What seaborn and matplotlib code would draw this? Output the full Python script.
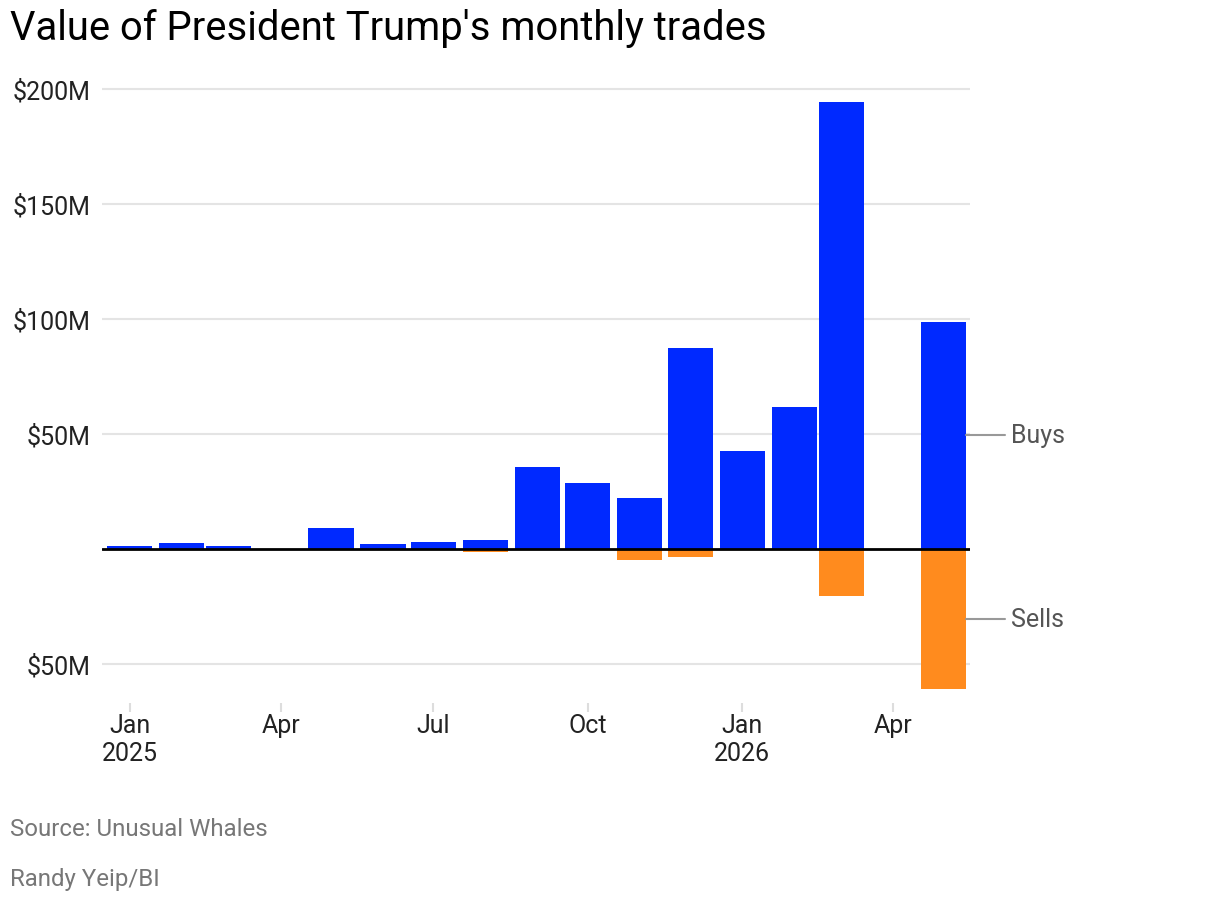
import matplotlib
matplotlib.use('Agg')
import matplotlib.pyplot as plt
import seaborn as sns
import numpy as np
import pandas as pd

# monthly trade values in $M
months = ['2025-01-01', '2025-02-01', '2025-03-01', '2025-04-01', '2025-05-01', '2025-06-01',
          '2025-07-01', '2025-08-01', '2025-09-01', '2025-10-01', '2025-11-01', '2025-12-01',
          '2026-01-01', '2026-02-01', '2026-03-01', '2026-04-01', '2026-05-01']
buys = [1.2, 2.7, 1.2, 0, 9.3, 2.3, 3.1, 4.0, 35.8, 28.8, 22.3, 87.4, 42.7, 61.8, 194.3, 0, 98.7]
sells = [0, 0, 0, 0, 0, 0, 0, -1.2, 0, 0, -4.6, -3.3, 0, 0, -20.3, 0, -60.8]

tick_dates = ['2025-01-01', '2025-04-01', '2025-07-01', '2025-10-01', '2026-01-01', '2026-04-01']
tick_labels = ['Jan\n2025', 'Apr', 'Jul', 'Oct', 'Jan\n2026', 'Apr']
y_ticks = [-50, 50, 100, 150, 200]

blue = '#0029ff'
orange = '#ff8b1e'

sns.set_theme(style='white')
plt.rcParams['font.family'] = ['Roboto', 'DejaVu Sans']

start = pd.Timestamp('2025-01-01')
days = np.array([(pd.Timestamp(m) - start).days for m in months])
tick_days = [(pd.Timestamp(t) - start).days for t in tick_dates]

fig = plt.figure(figsize=(12.2, 9.04), dpi=100)
ax = fig.add_axes([0.0836, 0.2113, 0.795 - 0.0836, 0.9055 - 0.2113])

sns.barplot(x=days, y=buys, native_scale=True, color=blue, saturation=1, width=0.96,
            errorbar=None, linewidth=0, ax=ax, zorder=2)
sns.barplot(x=days, y=sells, native_scale=True, color=orange, saturation=1, width=0.96,
            errorbar=None, linewidth=0, ax=ax, zorder=2)

ax.axhline(0, color='black', lw=2, zorder=3)
ax.set_xlim(-16.4, 500.6)
ax.set_ylim(-70.9, 202)

ax.set_yticks(y_ticks)
ax.set_yticklabels([f'${abs(v)}M' for v in y_ticks])
ax.set_xticks(tick_days)
ax.set_xticklabels(tick_labels, linespacing=1.2)

ax.grid(axis='y', color='#e4e4e4', lw=1.5, zorder=0)
ax.set_axisbelow(True)
for s in ax.spines.values():
    s.set_visible(False)
ax.tick_params(axis='y', length=0, pad=8, labelsize=18, labelcolor='#222222')
ax.tick_params(axis='x', direction='in', length=6.5, width=1.5, color='#dddddd', pad=1,
               labelsize=18, labelcolor='#222222', bottom=True)
ax.set_xlabel('')
ax.set_ylabel('')

# direct labels for the last bar
bar_right = days[-1] + 0.96 * 28 / 2
for val, name in [(buys[-1] / 2, 'Buys'), (sells[-1] / 2, 'Sells')]:
    ax.plot([bar_right, bar_right + 23], [val, val], color='#999999', lw=1.5, clip_on=False)
    ax.text(bar_right + 26.5, val, name, fontsize=18, color='#555555', va='center', ha='left')

fig.text(10 / 1220, 1 - 9 / 904, "Value of President Trump's monthly trades",
         fontsize=28.8, color='black', va='top', ha='left')
fig.text(10 / 1220, 1 - 830 / 904, 'Source: Unusual Whales', fontsize=17.3, color='#777777',
         va='center', ha='left')
fig.text(10 / 1220, 1 - 880 / 904, 'Randy Yeip/BI', fontsize=17.3, color='#777777',
         va='center', ha='left')

plt.savefig('out.png', dpi=100)
